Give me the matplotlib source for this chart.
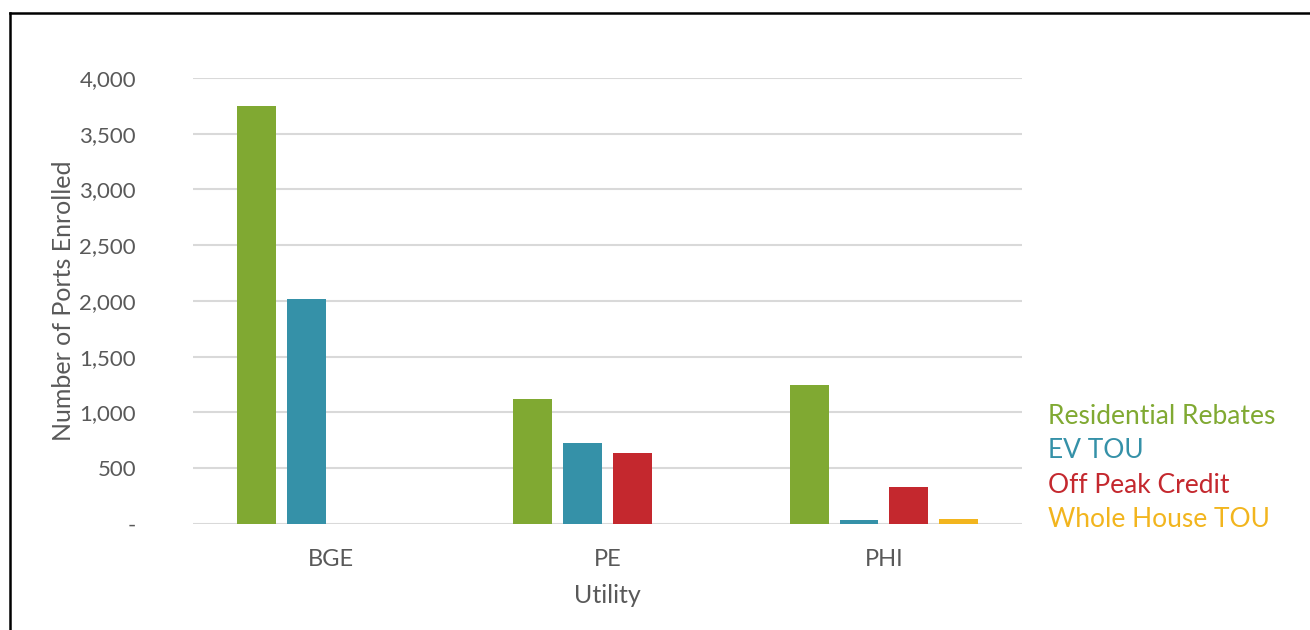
import matplotlib
matplotlib.use("Agg")
import matplotlib.pyplot as plt
from matplotlib.lines import Line2D
from matplotlib.ticker import FuncFormatter
import numpy as np

# Data
utilities = ['BGE', 'PE', 'PHI']
series_names = ['Residential Rebates', 'EV TOU', 'Off Peak Credit', 'Whole House TOU']
residential_rebates = [3750, 1125, 1245]
ev_tou = [2020, 725, 35]
off_peak_credit = [0, 640, 330]
whole_house_tou = [0, 0, 45]
colors = ['#80A932', '#3591A8', '#C4282E', '#F2B51E']

plt.rcParams['font.family'] = ['Lato', 'DejaVu Sans']
grey = '#595959'

fig = plt.figure(figsize=(13.1, 6.3), dpi=100)
ax = fig.add_axes([0.1473, 0.1683, 0.6328, 0.7079])

x = np.arange(len(utilities))
slot = 0.18
width = 0.14
values = [residential_rebates, ev_tou, off_peak_credit, whole_house_tou]
for i, (vals, name, col) in enumerate(zip(values, series_names, colors)):
    ax.bar(x + (i - 1.5) * slot, vals, width, color=col, label=name, zorder=3)

ax.set_xlim(-0.5, 2.5)
ax.set_ylim(0, 4000)
ax.set_yticks(range(0, 4001, 500))
ax.yaxis.set_major_formatter(FuncFormatter(lambda v, p: '-' if v == 0 else f'{int(v):,}'))
ax.set_xticks(x)
ax.set_xticklabels(utilities)
ax.grid(axis='y', color='#D9D9D9', linewidth=1.5, zorder=0)
ax.set_axisbelow(True)
for s in ax.spines.values():
    s.set_visible(False)
ax.tick_params(axis='y', length=0, pad=41, labelsize=16, labelcolor=grey)
ax.tick_params(axis='x', length=0, pad=18, labelsize=17, labelcolor=grey)
ax.set_ylabel('Number of Ports Enrolled', fontsize=18, color=grey)
ax.yaxis.set_label_coords(-0.142, 0.5)
ax.set_xlabel('Utility', fontsize=18, color=grey, labelpad=10)

leg = ax.legend(loc='center left', bbox_to_anchor=(0.782, 0.257), bbox_transform=fig.transFigure,
                frameon=False, handlelength=0, handletextpad=0, fontsize=19, labelspacing=0.36)
for h in leg.legend_handles:
    h.set_visible(False)
for txt, col in zip(leg.get_texts(), colors):
    txt.set_color(col)

# black frame on left and top
fig.add_artist(Line2D([0.0076, 0.0076], [0, 0.980], transform=fig.transFigure, color='black', linewidth=1.8))
fig.add_artist(Line2D([0.0076, 1.0], [0.980, 0.980], transform=fig.transFigure, color='black', linewidth=1.8))

fig.savefig('out.png', dpi=100)
